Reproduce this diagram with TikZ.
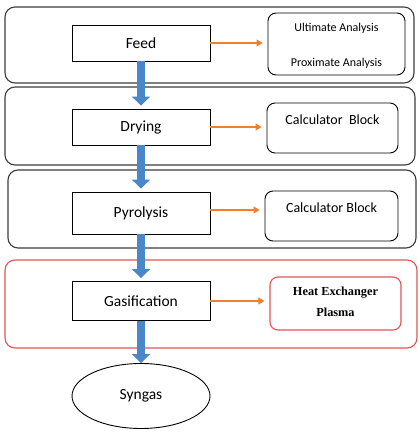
\documentclass[tikz,border=0pt]{standalone}
\usepackage{fontspec}
\setmainfont{Carlito}
\newfontfamily\timesf{Liberation Serif}
\usetikzlibrary{arrows.meta,shapes.geometric}
\definecolor{flowblue}{HTML}{4A87C9}
\definecolor{arrorange}{HTML}{F07F2F}
\definecolor{boxred}{HTML}{E05555}
\definecolor{framegray}{HTML}{3C3C3C}
\begin{document}
\begin{tikzpicture}[x=1pt,y=-1pt,
  stage/.style={draw=framegray, line width=1.1pt, rounded corners=10pt, inner sep=0pt},
  proc/.style={draw=black, fill=white, line width=0.9pt, minimum width=138pt, inner sep=0pt, font=\fontsize{15.5}{18}\selectfont},
  side/.style={draw=black, fill=white, line width=0.9pt, rounded corners=8pt, inner sep=0pt},
  sidetext/.style={inner sep=0pt, font=\fontsize{14}{16}\selectfont},
  smalltext/.style={inner sep=0pt, font=\fontsize{12}{14}\selectfont},
  flow/.style={line width=8pt, draw=flowblue, -{Triangle[width=18pt,length=9pt]}},
  toside/.style={draw=arrorange, line width=1.1pt, -{Triangle[width=7pt,length=6pt]}, shorten >=5pt}]
\useasboundingbox (0,0) rectangle (420,432);
\fill[white] (0,0) rectangle (420,432);

% stage frames
\node[stage, minimum width=409pt, minimum height=76pt] (s1) at (209.5,45) {};
\node[stage, minimum width=410pt, minimum height=78pt] (s2) at (210,126) {};
\node[stage, minimum width=408pt, minimum height=78pt] (s3) at (212,209) {};
\node[stage, draw=boxred, minimum width=412pt, minimum height=88pt] (s4) at (211,304) {};

% process boxes
\node[proc, minimum height=36pt] (feed) at (141,43) {Feed};
\node[proc, minimum height=36pt] (dry) at (141,127) {Drying};
\node[proc, minimum height=42pt] (pyro) at (141,213) {Pyrolysis};
\node[proc, minimum height=39pt] (gas) at (141,301) {Gasification};
\node[draw=black, line width=0.9pt, ellipse, minimum width=138pt, minimum height=65pt, inner sep=0pt, font=\fontsize{15.5}{18}\selectfont] (syn) at (141,396) {Syngas};

% blue flow arrows
\draw[flow, shorten >=3pt] (feed.south) -- (dry.north);
\draw[flow, shorten >=3pt] (dry.south) -- (pyro.north);
\draw[flow, shorten >=3pt] (pyro.south) -- (gas.north);
\draw[flow, shorten >=0pt] (gas.south) -- (syn.north);

% side boxes
\node[side, minimum width=137pt, minimum height=62pt] (ua) at (336.5,44) {};
\node[smalltext] (ut) at (336.5,28) {Ultimate Analysis};
\node[smalltext] (pt) at (336.5,63) {Proximate Analysis};

\node[side, minimum width=131pt, minimum height=50pt] (c1) at (332.5,128) {};
\node[sidetext] (c1t) at (332.5,120) {Calculator\ \ Block};

\node[side, minimum width=133pt, minimum height=50pt] (c2) at (331.5,216) {};
\node[sidetext] (c2t) at (331.5,208) {Calculator Block};

\node[side, draw=boxred, line width=1.1pt, minimum width=131pt, minimum height=53pt] (he) at (335.5,303.5) {};
\node[inner sep=0pt, font=\timesf\bfseries\fontsize{12.3}{14}\selectfont] (het) at (335.5,293) {Heat Exchanger};
\node[inner sep=0pt, font=\timesf\bfseries\fontsize{12.3}{14}\selectfont] (hep) at (335.5,312) {Plasma};

% orange arrows
\draw[toside] (feed.east) -- (feed.east -| ua.west);
\draw[toside] (dry.east) -- (dry.east -| c1.west);
\draw[toside] ([yshift=3pt]pyro.east) -- ([yshift=3pt]pyro.east -| c2.west);
\draw[toside] (gas.east) -- (gas.east -| he.west);
\end{tikzpicture}
\end{document}
